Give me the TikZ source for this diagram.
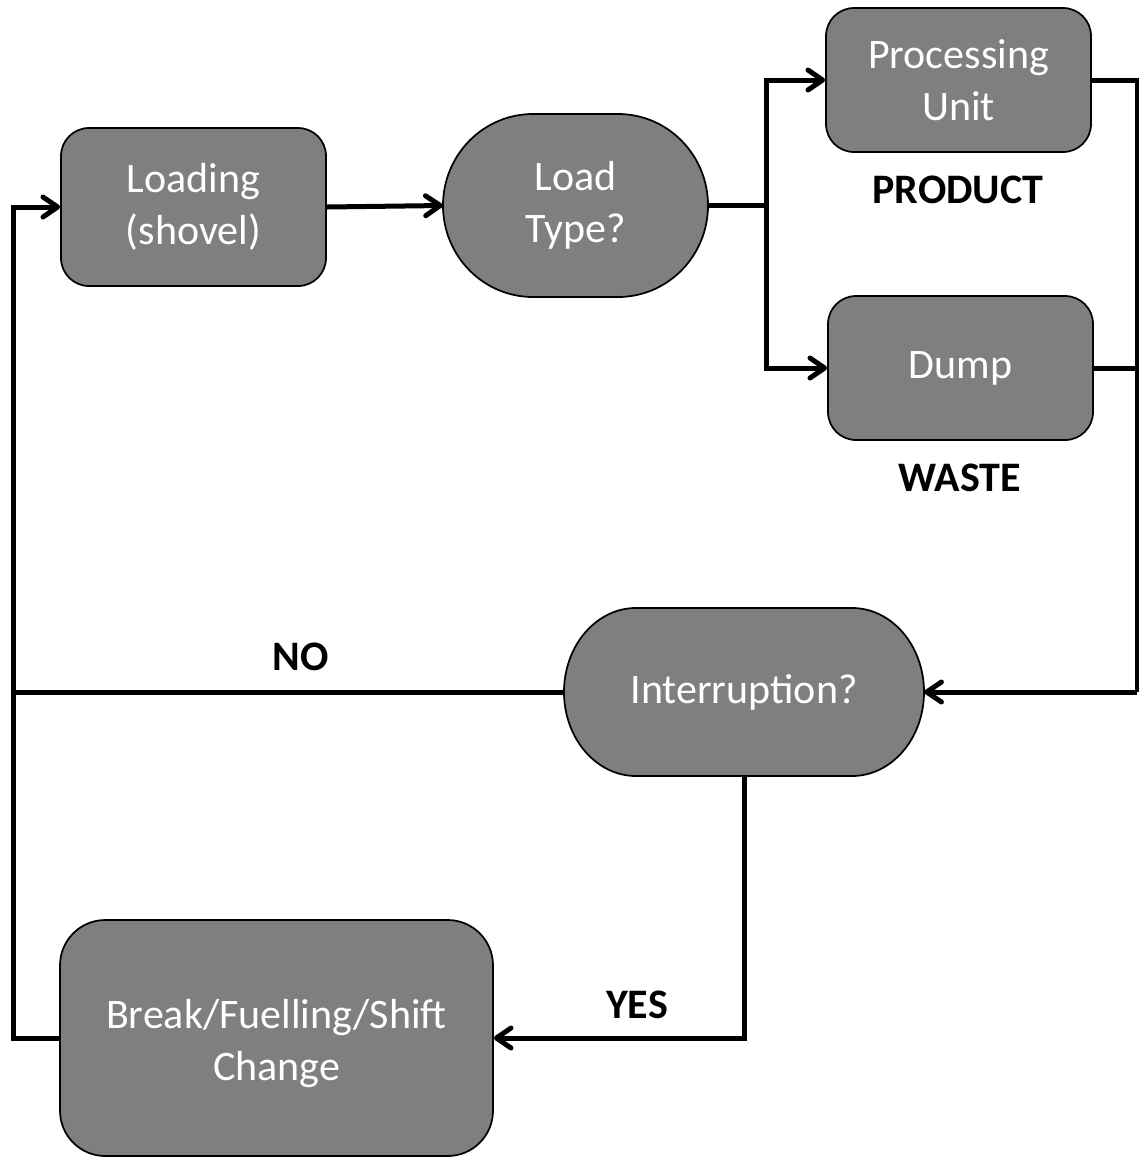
\documentclass[tikz,border=0pt]{standalone}
\usepackage{fontspec}
\setmainfont{Carlito}
\usetikzlibrary{arrows.meta}
\definecolor{boxgray}{RGB}{127,127,127}
\tikzset{
  boxtext/.style={font=\fontsize{31.5}{39}\selectfont, text=white, align=center, inner sep=0pt},
  procbox/.style={boxtext, draw=black, line width=1.3pt, fill=boxgray, rounded corners=21pt},
  termslot/.style={boxtext},
  termfill/.style={draw=black, line width=1.3pt, fill=boxgray},
  tag/.style={font=\fontsize{31.5}{39}\selectfont\bfseries, text=black, inner sep=0pt},
  conn/.style={line width=3.75pt, draw=black},
  arr/.style={conn, -{Straight Barb[length=11pt, width=15pt, line width=3.75pt, round]}},
}
\begin{document}
\begin{tikzpicture}[x=0.75pt, y=-0.75pt]
\useasboundingbox (0,0) rectangle (1139,1158);

% terminator outlines (elliptical ends)
\path[termfill] (533,114) -- (618,114)
  arc[start angle=-90, end angle=90, x radius=90, y radius=91.5]
  -- (533,297)
  arc[start angle=90, end angle=270, x radius=90, y radius=91.5] -- cycle;
\path[termfill] (636,608) -- (852,608)
  arc[start angle=-90, end angle=90, x radius=72, y radius=84]
  -- (636,776)
  arc[start angle=90, end angle=270, x radius=72, y radius=84] -- cycle;

% process boxes and decisions
\node[procbox, minimum width=198.75pt, minimum height=118.5pt] (load) at (193.5,207) {Loading\\(shovel)};
\node[termslot, minimum width=198.75pt, minimum height=137.25pt] (ltype) at (575.5,205.5) {Load\\Type?};
\node[procbox, minimum width=198.75pt, minimum height=108pt] (proc) at (958.5,80) {Processing\\Unit};
\node[procbox, minimum width=198.75pt, minimum height=108pt] (dump) at (960.5,368) {Dump};
\node[termslot, minimum width=270pt, minimum height=126pt] (intr) at (744,692) {Interruption?};
\node[procbox, rounded corners=34pt, minimum width=324.75pt, minimum height=177pt] (brk) at (276.5,1038) {};
\node[boxtext] (brktext) at (276.5,1044) {Break/Fuelling/Shift\\Change};

% labels
\node[tag] (lprod) at (958,190) {PRODUCT};
\node[tag] (lwaste) at (960,478) {WASTE};
\node[tag] (lno) at (301,657) {NO};
\node[tag] (lyes) at (637,1005) {YES};

% routing points
\coordinate (fork) at (766,205.5);
\coordinate (rrail) at (1137,692);
\coordinate (lrail) at (13,692);

% connectors
\draw[arr] (load.east) -- (ltype.west);
\draw[conn] (ltype.east) -- (fork);
\draw[arr] (fork) |- (proc.west);
\draw[arr] (fork) |- (dump.west);
\draw[conn] (proc.east) -- (proc.east -| rrail) -- (rrail);
\draw[conn] (dump.east) -- (dump.east -| rrail);
\draw[arr] (rrail) -- (intr.east);
\draw[conn] (intr.west) -- (lrail);
\draw[arr] (brk.west) -- (brk.west -| lrail) -- (lrail |- load.west) -- (load.west);
\draw[arr] (intr.south) |- (brk.east);
\end{tikzpicture}
\end{document}
